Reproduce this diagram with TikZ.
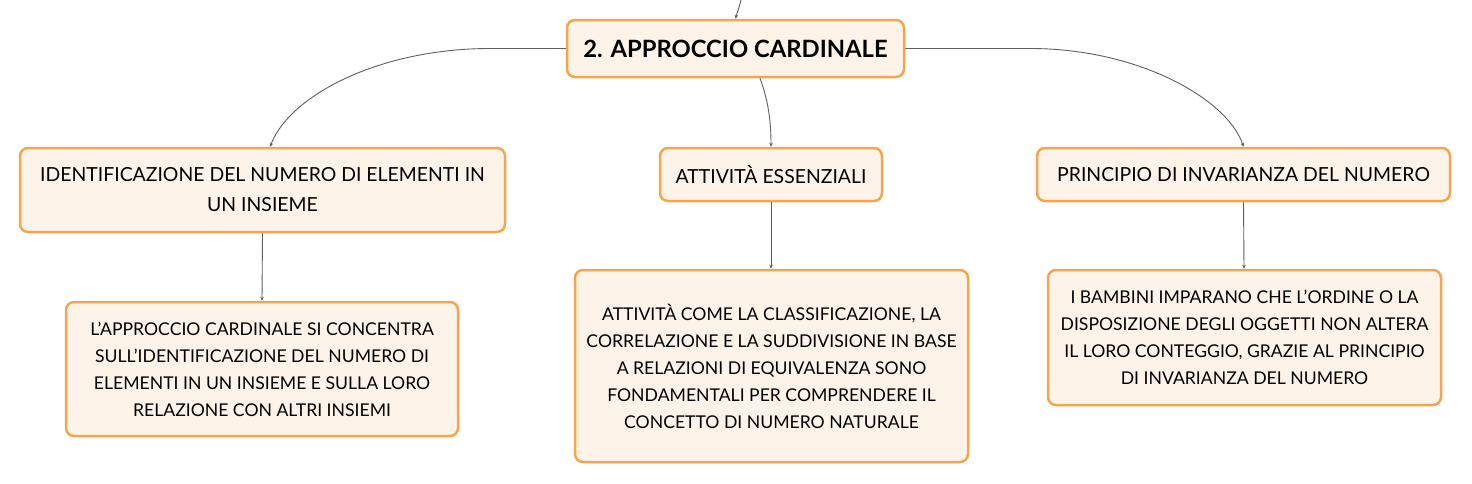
\documentclass[tikz,border=0pt]{standalone}
\usepackage{fontspec}
\setmainfont{Lato}
\usetikzlibrary{arrows.meta}
\definecolor{boxfill}{HTML}{FDF3E9}
\definecolor{boxline}{HTML}{F3A64E}
\definecolor{conn}{HTML}{606060}
\tikzset{
  box/.style={draw=boxline, fill=boxfill, line width=2.5pt, rounded corners=8pt,
    align=center, inner sep=0pt, font=\fontsize{17.6}{27}\selectfont, text=black},
  childbox/.style={box, font=\fontsize{19.4}{30}\selectfont},
  topbox/.style={box, font=\fontsize{23.8}{28}\selectfont\bfseries},
  conline/.style={draw=conn, line width=0.9pt, -{Stealth[length=4pt,width=3.5pt]}}
}
\begin{document}
\begin{tikzpicture}[x=1pt,y=-1pt]
\path[fill=white] (0,0) rectangle (1472,483);
\useasboundingbox (0,0) rectangle (1472,483);

\node[topbox, minimum width=337pt, minimum height=57pt] (top) at (735.5,48.5) {2. APPROCCIO CARDINALE};
\node[childbox, minimum width=485pt, minimum height=84pt] (lc) at (262.5,190) {IDENTIFICAZIONE DEL NUMERO DI ELEMENTI IN\\UN INSIEME};
\node[childbox, minimum width=222pt, minimum height=53pt] (mc) at (771,174.5) {ATTIVITÀ ESSENZIALI};
\node[childbox, minimum width=413pt, minimum height=53pt] (rc) at (1243.5,174.5) {PRINCIPIO DI INVARIANZA DEL NUMERO};
\node[box, minimum width=392pt, minimum height=134pt] (lg) at (262,369) {L'APPROCCIO CARDINALE SI CONCENTRA\\SULL'IDENTIFICAZIONE DEL NUMERO DI\\ELEMENTI IN UN INSIEME E SULLA LORO\\RELAZIONE CON ALTRI INSIEMI};
\node[box, minimum width=393pt, minimum height=192pt] (mg) at (771.5,366) {ATTIVITÀ COME LA CLASSIFICAZIONE, LA\\CORRELAZIONE E LA SUDDIVISIONE IN BASE\\A RELAZIONI DI EQUIVALENZA SONO\\FONDAMENTALI PER COMPRENDERE IL\\CONCETTO DI NUMERO NATURALE};
\node[box, minimum width=393pt, minimum height=135pt] (rg) at (1244.5,337.5) {I BAMBINI IMPARANO CHE L'ORDINE O LA\\DISPOSIZIONE DEGLI OGGETTI NON ALTERA\\IL LORO CONTEGGIO, GRAZIE AL PRINCIPIO\\DI INVARIANZA DEL NUMERO};

\coordinate (in) at (741,0);
\draw[conline] (in) .. controls (739,8) and (737,13) .. (top.north);
\draw[conline] (top.west) -- (490,48.5) .. controls (380,48.5) and (290,95) .. ([xshift=7.5pt]lc.north);
\draw[conline] (top.east) -- (1030,48.5) .. controls (1140,48.5) and (1228,100) .. (rc.north);
\draw[conline] ([xshift=24.5pt]top.south) .. controls (768,100) and (771,120) .. (mc.north);
\draw[conline] (lc.south) -- (lg.north);
\draw[conline] (mc.south) -- ([xshift=-0.5pt]mg.north);
\draw[conline] (rc.south) -- ([xshift=-0.5pt]rg.north);
\end{tikzpicture}
\end{document}
